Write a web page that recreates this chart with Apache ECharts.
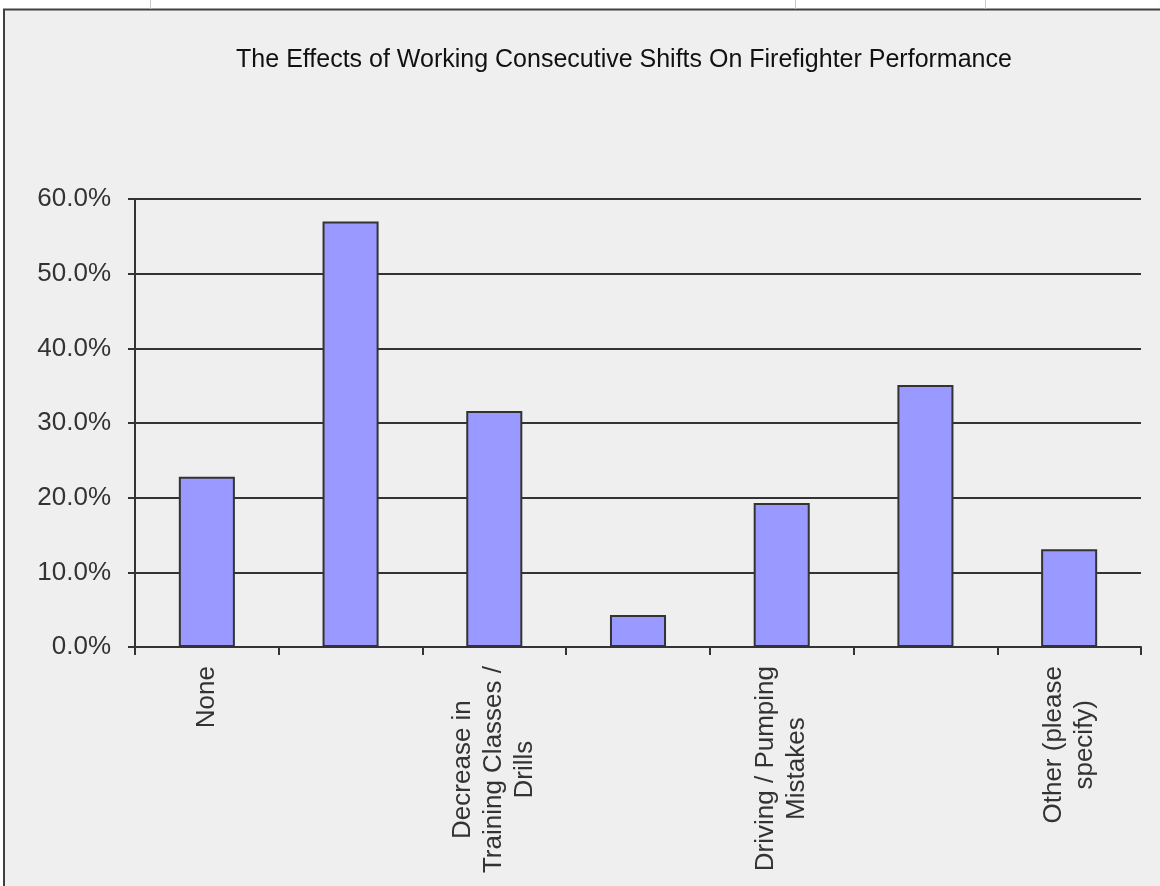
<!DOCTYPE html>
<html>
<head>
<meta charset="utf-8">
<title>Consecutive Shifts and Firefighter Performance</title>
<script src="https://cdn.jsdelivr.net/npm/echarts@6/dist/echarts.min.js"></script>
<style>
  html, body { margin: 0; padding: 0; background: #ffffff; }
  #chart { width: 1160px; height: 886px; }
</style>
</head>
<body>
<div id="chart"></div>
<script>
// Survey responses: share of respondents naming each effect
const chartTitle = 'The Effects of Working Consecutive Shifts On Firefighter Performance';
const categories = [
  'None',
  'Fatigue / Decreased Alertness',
  'Decrease in Training Classes / Drills',
  'Medical / EMS Errors',
  'Driving / Pumping Mistakes',
  'Decreased Morale / Motivation',
  'Other (please specify)'
];
const shares = [0.228, 0.570, 0.316, 0.043, 0.193, 0.351, 0.131];
const yTicks = { min: 0, max: 0.6, step: 0.1 };

const FONT = '"Liberation Sans", Arial, Helvetica, sans-serif';
const INK = '#333333';

// greedy word wrap for the category labels
function wrap(text, maxChars) {
  const words = text.split(' ');
  const lines = [];
  let cur = '';
  words.forEach(w => {
    const next = cur ? cur + ' ' + w : w;
    if (next.length > maxChars && cur) { lines.push(cur); cur = w; }
    else cur = next;
  });
  if (cur) lines.push(cur);
  return lines;
}

const chart = echarts.init(document.getElementById('chart'));

chart.setOption({
  backgroundColor: '#ffffff',
  animation: false,
  graphic: [
    // sheet cell borders above the chart panel
    { type: 'line', shape: { x1: 150.5, y1: 0, x2: 150.5, y2: 9 }, style: { stroke: '#c8c8c8', lineWidth: 1 }, silent: true },
    { type: 'line', shape: { x1: 795.5, y1: 0, x2: 795.5, y2: 9 }, style: { stroke: '#c8c8c8', lineWidth: 1 }, silent: true },
    { type: 'line', shape: { x1: 985.5, y1: 0, x2: 985.5, y2: 9 }, style: { stroke: '#c8c8c8', lineWidth: 1 }, silent: true },
    // chart panel
    {
      type: 'rect', z: -10, silent: true,
      shape: { x: 4, y: 9.5, width: 1170, height: 890 },
      style: { fill: '#efefef', stroke: '#404040', lineWidth: 2 }
    }
  ],
  title: {
    text: chartTitle,
    left: 619,
    top: 43,
    textAlign: 'center',
    textStyle: { fontFamily: FONT, fontSize: 25, fontWeight: 'normal', color: '#111111' }
  },
  grid: { left: 135, right: 19, top: 199, bottom: 239, containLabel: false },
  xAxis: {
    type: 'category',
    data: categories,
    axisLine: { show: true, lineStyle: { color: INK, width: 2 } },
    axisTick: { show: true, interval: 0, length: 8, lineStyle: { color: INK, width: 2 } },
    axisLabel: {
      interval: 1,
      rotate: 90,
      margin: 19,
      color: INK,
      fontFamily: FONT,
      fontSize: 26,
      formatter: v => wrap(v, 18).map(l => '{c|' + l + '}').join('\n'),
      rich: { c: { align: 'center', fontFamily: FONT, fontSize: 26, color: INK, lineHeight: 31 } }
    },
    splitLine: { show: false }
  },
  yAxis: {
    type: 'value',
    min: yTicks.min,
    max: yTicks.max,
    interval: yTicks.step,
    axisLine: { show: true, lineStyle: { color: INK, width: 2 } },
    axisTick: { show: true, length: 7, lineStyle: { color: INK, width: 2 } },
    axisLabel: {
      margin: 24,
      color: INK,
      fontFamily: FONT,
      fontSize: 26,
      formatter: v => (v * 100).toFixed(1) + '%'
    },
    splitLine: { show: true, lineStyle: { color: INK, width: 2 } }
  },
  series: [{
    type: 'bar',
    data: shares,
    barCategoryGap: '61%',
    itemStyle: { color: '#9999ff', borderColor: INK, borderWidth: 2 },
    emphasis: { disabled: true }
  }]
});
</script>
</body>
</html>
